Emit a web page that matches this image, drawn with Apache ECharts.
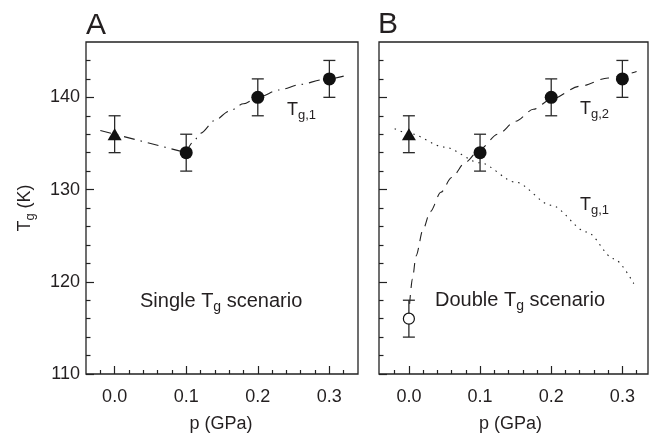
<!DOCTYPE html>
<html><head><meta charset="utf-8">
<script src="https://cdn.jsdelivr.net/npm/echarts@6/dist/echarts.min.js"></script>
<style>html,body{margin:0;padding:0;background:#fff}#c{width:649px;height:435px}</style>
</head><body><div id="c"></div>
<script>
// ---- data ----
const pressure = [0.0, 0.1, 0.2, 0.3];          // GPa
const tgA = [136, 134, 140, 142];                // panel A, first point = triangle
const tgB = [136, 134, 140, 142];                // panel B, first point = triangle
const tgErr = [2, 2, 2, 2];
const lowP = [0.0];                              // open circle, panel B
const lowTg = [116];
const lowErr = [2];
// guide curves
const fitA1_p = [-0.02, 0.0, 0.1];
const fitA1_T = [136.4, 136.0, 134.0];
const fitA2_p = [0.1, 0.11, 0.12, 0.14, 0.16, 0.18, 0.2, 0.23, 0.26, 0.29, 0.32];
const fitA2_T = [134.0, 135.2, 136.1, 137.5, 138.5, 139.3, 140.0, 140.8, 141.4, 141.9, 142.3];
const tg2_p = [0.001, 0.005, 0.01, 0.02, 0.03, 0.045, 0.06, 0.08, 0.1, 0.125, 0.15, 0.175, 0.2, 0.24, 0.28, 0.32];
const tg2_T = [117.6, 120.3, 122.8, 125.7, 127.6, 129.7, 131.3, 133.0, 134.4, 136.0, 137.4, 138.7, 139.8, 141.2, 142.1, 142.8];
const tg1_p = [-0.02, 0.0, 0.05, 0.1, 0.15, 0.2, 0.25, 0.288, 0.316];
const tg1_T = [136.6, 136.1, 134.6, 132.9, 130.8, 128.3, 125.4, 122.5, 119.8];
// ticks
const xMajorTicks = [0.0, 0.1, 0.2, 0.3];
const xMinorTicks = [-0.02, 0.02, 0.04, 0.06, 0.08, 0.12, 0.14, 0.16, 0.18, 0.22, 0.24, 0.26, 0.28, 0.32];
const yMajorTicks = [110, 120, 130, 140];
const yMinorTicks = [112, 114, 116, 118, 122, 124, 126, 128, 132, 134, 136, 138, 142, 144];

const FONT = 'Liberation Sans, Arial, Helvetica, sans-serif';
const INK = '#231f20';
const LINE = '#222';

function xAxesFor(gridIndex, min, max) {
  return [
    {type:'value', gridIndex, min, max, position:'bottom',
     axisLine:{show:false, onZero:false}, splitLine:{show:false},
     axisTick:{show:true, inside:true, length:8, customValues:xMajorTicks, lineStyle:{color:LINE, width:1.2}},
     axisLabel:{show:true, customValues:xMajorTicks, margin:14, formatter:v => Number(v).toFixed(1),
                fontSize:18, color:INK, fontFamily:FONT}},
    {type:'value', gridIndex, min, max, position:'bottom',
     axisLine:{show:false, onZero:false}, splitLine:{show:false},
     axisTick:{show:true, inside:true, length:4, customValues:xMinorTicks, lineStyle:{color:LINE, width:1.2}},
     axisLabel:{show:false}}
  ];
}
function yAxesFor(gridIndex, showLabels) {
  return [
    {type:'value', gridIndex, min:110, max:146, position:'left',
     axisLine:{show:false, onZero:false}, splitLine:{show:false},
     axisTick:{show:true, inside:true, length:8, customValues:yMajorTicks, lineStyle:{color:LINE, width:1.2}},
     axisLabel:{show:showLabels, customValues:yMajorTicks, margin:6, fontSize:18, color:INK, fontFamily:FONT}},
    {type:'value', gridIndex, min:110, max:146, position:'left',
     axisLine:{show:false, onZero:false}, splitLine:{show:false},
     axisTick:{show:true, inside:true, length:4.5, customValues:yMinorTicks, lineStyle:{color:LINE, width:1.2}},
     axisLabel:{show:false}}
  ];
}

function curve(xi, ps, ts, dash, smooth) {
  return {type:'line', xAxisIndex:xi, yAxisIndex:xi, data:ps.map((p,i)=>[p, ts[i]]),
    symbol:'none', showSymbol:false, smooth:smooth, smoothMonotone:'x', silent:true,
    lineStyle:{color:LINE, width:1.1, type:dash, cap:'butt', opacity:1}, z:2};
}
function errRender(params, api) {
  const x = api.value(0), lo = api.value(1), hi = api.value(2);
  const a = api.coord([x, hi]), b = api.coord([x, lo]);
  const cap = 6;
  const st = {stroke:'#2a2a2a', lineWidth:1.3};
  return {type:'group', children:[
    {type:'line', shape:{x1:a[0], y1:a[1], x2:b[0], y2:b[1]}, style:st},
    {type:'line', shape:{x1:a[0]-cap, y1:a[1], x2:a[0]+cap, y2:a[1]}, style:st},
    {type:'line', shape:{x1:b[0]-cap, y1:b[1], x2:b[0]+cap, y2:b[1]}, style:st}
  ]};
}
function errSeries(xi, ps, ts, es) {
  return {type:'custom', xAxisIndex:xi, yAxisIndex:xi, renderItem:errRender, silent:true, z:3,
    data:ps.map((p,i)=>[p, ts[i]-es[i], ts[i]+es[i]]), encode:{x:0, y:[1,2]}};
}
function pts(xi, ps, ts, symbol, size, style) {
  return {type:'scatter', xAxisIndex:xi, yAxisIndex:xi, data:ps.map((p,i)=>[p, ts[i]]),
    symbol, symbolSize:size, itemStyle:Object.assign({opacity:1}, style), silent:true, z:4};
}

const subRich = (mSize, sSize, pad) => ({
  m:{fontSize:mSize, fontFamily:FONT, color:INK, lineHeight:mSize+4},
  s:{fontSize:sSize, fontFamily:FONT, color:INK, padding:[pad,0,0,0]}
});
function label(x, y, text, rich) {
  return {type:'text', x, y, silent:true,
    style:{text, rich, fill:INK, align:'left', verticalAlign:'middle', fontFamily:FONT}};
}

const chart = echarts.init(document.getElementById('c'), null, {renderer:'canvas'});
chart.setOption({
  animation:false,
  backgroundColor:'#fff',
  grid:[
    {left:86, top:42, width:272, height:332, show:true, borderColor:LINE, borderWidth:1.3,
     backgroundColor:'transparent', containLabel:false, outerBoundsMode:'none'},
    {left:379, top:42, width:269, height:332, show:true, borderColor:LINE, borderWidth:1.3,
     backgroundColor:'transparent', containLabel:false, outerBoundsMode:'none'}
  ],
  xAxis:[...xAxesFor(0, -0.04, 0.34), ...xAxesFor(1, -0.042, 0.336)],
  yAxis:[...yAxesFor(0, true), ...yAxesFor(1, false)],
  series:[
    // panel A
    curve(0, fitA1_p, fitA1_T, [11,6,1.5,6], false),
    curve(0, fitA2_p, fitA2_T, [11,6,1.5,6], 0.3),
    errSeries(0, pressure, tgA, tgErr),
    pts(0, pressure.slice(0,1), tgA.slice(0,1), 'triangle', [14,12], {color:'#111'}),
    pts(0, pressure.slice(1), tgA.slice(1), 'circle', 13, {color:'#111'}),
    // panel B
    curve(2, tg2_p, tg2_T, [9,7], 0.3),
    curve(2, tg1_p, tg1_T, [1.5,5], 0.3),
    errSeries(2, pressure, tgB, tgErr),
    errSeries(2, lowP, lowTg, lowErr),
    pts(2, pressure.slice(0,1), tgB.slice(0,1), 'triangle', [14,12], {color:'#111'}),
    pts(2, pressure.slice(1), tgB.slice(1), 'circle', 13, {color:'#111'}),
    pts(2, lowP, lowTg, 'circle', 11, {color:'#fff', borderColor:'#111', borderWidth:1.2})
  ],
  graphic:[
    {type:'text', x:86, y:26, silent:true,
     style:{text:'A', fill:INK, fontSize:30, fontFamily:FONT, align:'left', verticalAlign:'middle'}},
    {type:'text', x:378, y:25, silent:true,
     style:{text:'B', fill:INK, fontSize:30, fontFamily:FONT, align:'left', verticalAlign:'middle'}},
    label(287, 110, '{m|T}{s|g,1}', subRich(18, 13, 10)),
    label(580, 109, '{m|T}{s|g,2}', subRich(18, 13, 10)),
    label(580, 205.5, '{m|T}{s|g,1}', subRich(18, 13, 10)),
    label(140, 301, '{m|Single T}{s|g}{m| scenario}', subRich(20, 14, 12)),
    label(435, 300, '{m|Double T}{s|g}{m| scenario}', subRich(20, 14, 12)),
    {type:'text', x:221, y:424, silent:true,
     style:{text:'p (GPa)', fill:INK, fontSize:18, fontFamily:FONT, align:'center', verticalAlign:'middle'}},
    {type:'text', x:510.5, y:424, silent:true,
     style:{text:'p (GPa)', fill:INK, fontSize:18, fontFamily:FONT, align:'center', verticalAlign:'middle'}},
    {type:'text', x:25, y:208, rotation:Math.PI/2, silent:true,
     style:{text:'{m|T}{s|g}{m| (K)}', rich:subRich(18, 13, 10), fill:INK, align:'center', verticalAlign:'middle', fontFamily:FONT}}
  ]
});
</script></body></html>
